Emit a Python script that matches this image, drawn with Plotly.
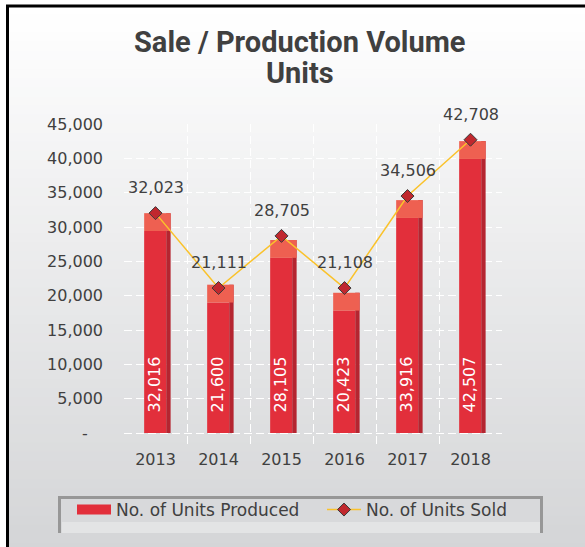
import plotly.graph_objects as go

# data
years = ["2013", "2014", "2015", "2016", "2017", "2018"]
units_produced = [32016, 21600, 28105, 20423, 33916, 42507]
units_sold = [32023, 21111, 28705, 21108, 34506, 42708]
y_ticks = [0, 5000, 10000, 15000, 20000, 25000, 30000, 35000, 40000, 45000]
y_tick_labels = ["-\u00a0\u00a0\u00a0"] + [f"{v:,}" for v in y_ticks[1:]]

W, H = 585, 547
L, R, T, B = 124, 83, 124, 103
CAP = 2600  # height of the lighter "top face" of each bar

FONT = "DejaVu Sans"
TEXT = "#404040"
RED = "#E22F3B"
RED_TOP = "#EE6051"
RED_SIDE = "#B52530"


def px_x(p):
    return (p - L) / (W - L - R)


def px_y(p):
    return (H - B - p) / (H - T - B)


fig = go.Figure()

# front face of the bars
fig.add_trace(go.Bar(
    x=years,
    y=[p - CAP for p in units_produced],
    width=0.35,
    offset=-0.18,
    marker=dict(color=RED, line=dict(width=0)),
    showlegend=False,
    hoverinfo="skip",
))

# right side face
fig.add_trace(go.Bar(
    x=years,
    y=units_produced,
    width=0.07,
    offset=0.17,
    marker=dict(color=RED_SIDE, line=dict(width=0)),
    showlegend=False,
    hoverinfo="skip",
))

# lighter top face
fig.add_trace(go.Bar(
    x=years,
    y=[CAP] * len(years),
    base=[p - CAP for p in units_produced],
    width=0.42,
    offset=-0.18,
    marker=dict(color=RED_TOP, line=dict(width=0)),
    showlegend=False,
    hovertext=[f"{p:,}" for p in units_produced],
    hoverinfo="text",
))

# legend entry for the bars (wide swatch like the original)
fig.add_trace(go.Scatter(
    x=[None], y=[None], mode="lines",
    name="No. of Units Produced",
    line=dict(color=RED, width=10),
))

fig.add_trace(go.Scatter(
    x=years,
    y=units_sold,
    mode="lines+markers",
    name="No. of Units Sold",
    line=dict(color="#FAC22B", width=1.5),
    marker=dict(symbol="diamond", size=10, color="#C0282E",
                line=dict(color="#3a3a3a", width=1)),
))

# value labels (category index for x)
for i, v in enumerate(units_sold):
    fig.add_annotation(x=i, y=v, text=f"{v:,}", showarrow=False,
                       yanchor="bottom", yshift=14,
                       font=dict(family=FONT, size=16, color=TEXT))
for i, v in enumerate(units_produced):
    fig.add_annotation(x=i, y=0, text=f"{v:,}", showarrow=False,
                       textangle=-90, yanchor="bottom", yshift=18, xshift=-1,
                       font=dict(family=FONT, size=16, color="white"))

# two-line title
fig.add_annotation(xref="paper", yref="paper", x=px_x(300), y=px_y(42),
                   text="Sale / Production Volume", showarrow=False,
                   xanchor="center", yanchor="middle",
                   font=dict(family="Roboto", size=29, color=TEXT, weight="bold"))
fig.add_annotation(xref="paper", yref="paper", x=px_x(300), y=px_y(73),
                   text="Units", showarrow=False,
                   xanchor="center", yanchor="middle",
                   font=dict(family="Roboto", size=29, color=TEXT, weight="bold"))

# background gradient + frame
shapes = []
n = 60
top, bottom = 5, H + 5
for i in range(n):
    t = i / (n - 1)
    c = [round(255 + (a - 255) * t) for a in (212, 213, 215)]
    y0 = top + (bottom - top) * i / n
    y1 = top + (bottom - top) * (i + 1) / n + 1
    shapes.append(dict(type="rect", xref="paper", yref="paper",
                       x0=px_x(7), x1=px_x(W + 10), y0=px_y(y0), y1=px_y(y1),
                       fillcolor=f"rgb({c[0]},{c[1]},{c[2]})",
                       line=dict(width=0), layer="below"))
shapes.append(dict(type="rect", xref="paper", yref="paper",
                   x0=px_x(7.5), x1=px_x(W + 20), y0=px_y(6), y1=px_y(H + 20),
                   line=dict(color="black", width=3), layer="above"))

# legend box (bevelled grey panel)
shapes.append(dict(type="rect", xref="paper", yref="paper",
                   x0=px_x(58), x1=px_x(543), y0=px_y(496), y1=px_y(533),
                   fillcolor="#d8d9db", line=dict(width=0), layer="below"))
shapes.append(dict(type="rect", xref="paper", yref="paper",
                   x0=px_x(62), x1=px_x(540), y0=px_y(522), y1=px_y(533),
                   fillcolor="#e3e4e5", line=dict(width=0), layer="below"))
shapes.append(dict(type="path", xref="paper", yref="paper",
                   path=(f"M{px_x(59.5)},{px_y(533)} L{px_x(59.5)},{px_y(497.5)} "
                         f"L{px_x(541.5)},{px_y(497.5)} L{px_x(541.5)},{px_y(533)}"),
                   line=dict(color="#979797", width=3), layer="below"))

fig.update_layout(
    width=W, height=H,
    margin=dict(l=L, r=R, t=T, b=B, autoexpand=False),
    paper_bgcolor="white",
    plot_bgcolor="rgba(0,0,0,0)",
    barmode="overlay",
    shapes=shapes,
    showlegend=True,
    legend=dict(orientation="h",
                x=px_x(72), xanchor="left",
                y=px_y(492), yanchor="top",
                bgcolor="rgba(0,0,0,0)", borderwidth=0,
                entrywidth=201, itemwidth=34,
                font=dict(family=FONT, size=17, color=TEXT)),
)

fig.update_xaxes(
    type="category", range=[-0.5, 5.5],
    tickson="boundaries", ticks="",
    showgrid=True, gridcolor="white", griddash="8px,4px", gridwidth=1,
    showline=False, zeroline=False,
    tickfont=dict(family=FONT, size=16, color=TEXT),
    ticklabelstandoff=4,
)
fig.update_yaxes(
    range=[-1600, 45000],
    tickvals=y_ticks, ticktext=y_tick_labels,
    showgrid=True, gridcolor="white", griddash="8px,4px", gridwidth=1,
    showline=False, zeroline=False, ticks="",
    tickfont=dict(family=FONT, size=16, color=TEXT),
    ticklabelstandoff=20,
)

# page body has a default margin; drop it so the figure sits at the window corner
fig.write_html("out.html", config={"displayModeBar": False},
               post_script="document.body.style.margin='0px';")
